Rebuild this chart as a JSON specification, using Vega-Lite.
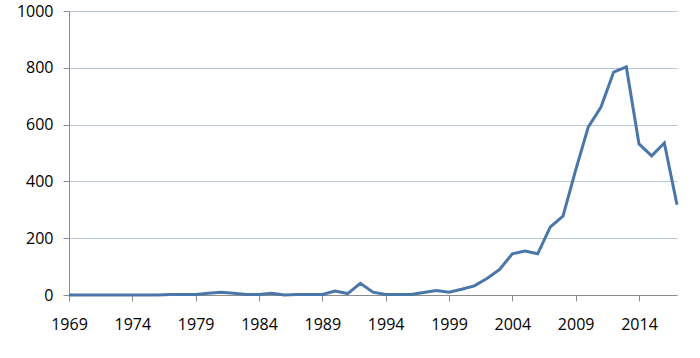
{
  "$schema": "https://vega.github.io/schema/vega-lite/v6.json",
  "autosize": "none",
  "width": 608,
  "height": 284,
  "padding": {"left": 69, "top": 11, "right": 23, "bottom": 63},
  "background": "white",
  "config": {"view": {"stroke": null}, "font": "Open Sans"},
  "data": {"values": [
    {"year": 1969, "value": 0}, {"year": 1970, "value": 0}, {"year": 1971, "value": 0},
    {"year": 1972, "value": 0}, {"year": 1973, "value": 0}, {"year": 1974, "value": 0},
    {"year": 1975, "value": 0}, {"year": 1976, "value": 0}, {"year": 1977, "value": 2},
    {"year": 1978, "value": 2}, {"year": 1979, "value": 2}, {"year": 1980, "value": 6},
    {"year": 1981, "value": 10}, {"year": 1982, "value": 6}, {"year": 1983, "value": 2},
    {"year": 1984, "value": 2}, {"year": 1985, "value": 6}, {"year": 1986, "value": 0},
    {"year": 1987, "value": 2}, {"year": 1988, "value": 2}, {"year": 1989, "value": 2},
    {"year": 1990, "value": 14}, {"year": 1991, "value": 5}, {"year": 1992, "value": 41},
    {"year": 1993, "value": 10}, {"year": 1994, "value": 2}, {"year": 1995, "value": 2},
    {"year": 1996, "value": 2}, {"year": 1997, "value": 9}, {"year": 1998, "value": 16},
    {"year": 1999, "value": 10}, {"year": 2000, "value": 20}, {"year": 2001, "value": 32},
    {"year": 2002, "value": 58}, {"year": 2003, "value": 90}, {"year": 2004, "value": 145},
    {"year": 2005, "value": 155}, {"year": 2006, "value": 145}, {"year": 2007, "value": 240},
    {"year": 2008, "value": 278}, {"year": 2009, "value": 440}, {"year": 2010, "value": 592},
    {"year": 2011, "value": 662}, {"year": 2012, "value": 785}, {"year": 2013, "value": 803},
    {"year": 2014, "value": 532}, {"year": 2015, "value": 490}, {"year": 2016, "value": 535},
    {"year": 2017, "value": 318}
  ]},
  "mark": {"type": "line", "color": "#4a76aa", "strokeWidth": 3, "strokeJoin": "miter"},
  "encoding": {
    "x": {
      "field": "year", "type": "quantitative",
      "scale": {"domain": [1969, 2017], "nice": false, "zero": false},
      "axis": {
        "title": null, "grid": false, "format": "d",
        "values": [1969, 1974, 1979, 1984, 1989, 1994, 1999, 2004, 2009, 2014],
        "domainColor": "#8c8c8c", "tickColor": "#8c8c8c", "tickSize": 6,
        "labelFontSize": 16, "labelColor": "#000000", "labelPadding": 15,
        "labelFlush": false
      }
    },
    "y": {
      "field": "value", "type": "quantitative",
      "scale": {"domain": [0, 1000], "nice": false},
      "axis": {
        "title": null, "values": [0, 200, 400, 600, 800, 1000], "format": "d",
        "gridColor": "#b9c6d6", "gridWidth": 1,
        "domainColor": "#8c8c8c", "tickColor": "#8c8c8c", "tickSize": 6,
        "labelFontSize": 16, "labelColor": "#000000", "labelPadding": 10
      }
    }
  }
}
